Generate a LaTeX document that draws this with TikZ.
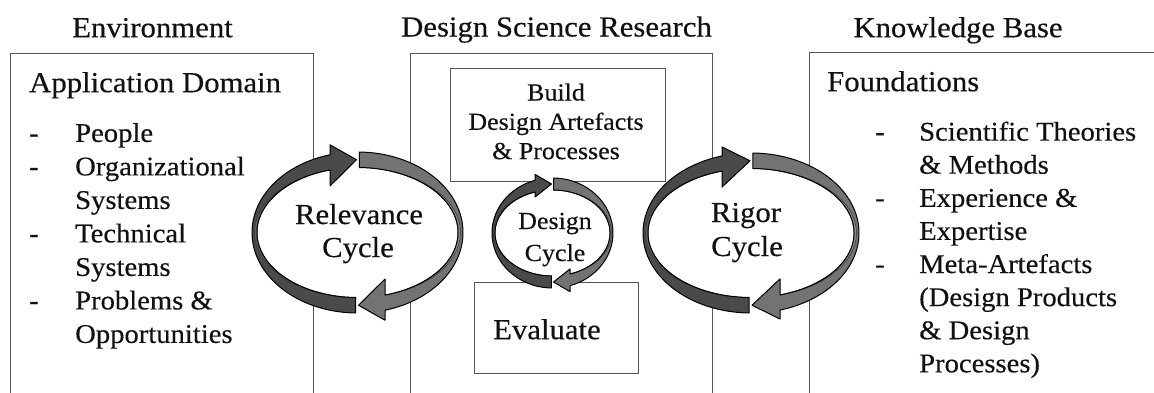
\documentclass[tikz,border=0pt]{standalone}
\usepackage{fontspec}
\setmainfont{Liberation Serif}[FakeStretch=1.06,FakeBold=0.35]
\definecolor{arrDark}{HTML}{4A4A4A}
\definecolor{arrDarkS}{HTML}{5E5E5E}
\definecolor{arrMid}{HTML}{737373}
\definecolor{arrMidS}{HTML}{888888}
\definecolor{boxgray}{HTML}{555555}
\definecolor{ink}{HTML}{111111}
\newcommand\fontHdr{\fontsize{29}{33}\selectfont}
\newcommand\fontItem{\fontsize{27}{33}\selectfont}
\newcommand\fontSmall{\fontsize{24.5}{29.3}\selectfont}
% #1 cx, #2 cy, #3 Rx, #4 Ry, #5 inner ry, #6 crescent depth, #7 head base offset, #8 wing out, #9 wing in
\newcommand{\cycdraw}[9]{%
  \pgfmathsetmacro\cyX{#1}\pgfmathsetmacro\cyY{#2}%
  \pgfmathsetmacro\cyRx{#3}\pgfmathsetmacro\cyRy{#4}\pgfmathsetmacro\cyry{#5}%
  \pgfmathsetmacro\cyrb{#3-#6/2}\pgfmathsetmacro\cyrc{#3-#6}%
  \pgfmathsetmacro\cyb{#7}\pgfmathsetmacro\cywo{#8}\pgfmathsetmacro\cywi{#9}%
  \pgfmathsetmacro\cytO{acos(\cyb/\cyRx)}%
  \pgfmathsetmacro\cytB{acos(\cyb/\cyrb)}%
  \pgfmathsetmacro\cytC{acos(\cyb/\cyrc)}%
  \fill[white] (\cyX,\cyY) ellipse[x radius=\cyRx pt, y radius=\cyRy pt];
  % left (dark) arrow
  \fill[arrDark]
    ({\cyX+\cyRx*cos(269)},{\cyY+\cyRy*sin(269)})
    arc[start angle=269, end angle={180-\cytO}, x radius=\cyRx pt, y radius=\cyRy pt]
    -- ({\cyX-\cyb},{\cyY+\cyRy*sin(\cytO)+\cywo})
    -- ({\cyX-1},{\cyY+(\cyRy+\cyry)/2})
    -- ({\cyX-\cyb},{\cyY+\cyry*sin(\cytC)-\cywi})
    -- ({\cyX-\cyb},{\cyY+\cyry*sin(\cytC)})
    arc[start angle={180-\cytC}, end angle=269, x radius=\cyrc pt, y radius=\cyry pt]
    -- cycle;
  \filldraw[fill=arrDarkS, draw=black!80, line width=0.5pt]
    ({\cyX+\cyrb*cos(269)},{\cyY+\cyry*sin(269)})
    arc[start angle=269, end angle={180-\cytB}, x radius=\cyrb pt, y radius=\cyry pt]
    -- ({\cyX-\cyb},{\cyY+\cyry*sin(\cytC)})
    arc[start angle={180-\cytC}, end angle=269, x radius=\cyrc pt, y radius=\cyry pt]
    -- cycle;
  \draw[arrowline]
    ({\cyX+\cyRx*cos(269)},{\cyY+\cyRy*sin(269)})
    arc[start angle=269, end angle={180-\cytO}, x radius=\cyRx pt, y radius=\cyRy pt]
    -- ({\cyX-\cyb},{\cyY+\cyRy*sin(\cytO)+\cywo})
    -- ({\cyX-1},{\cyY+(\cyRy+\cyry)/2})
    -- ({\cyX-\cyb},{\cyY+\cyry*sin(\cytC)-\cywi})
    -- ({\cyX-\cyb},{\cyY+\cyry*sin(\cytC)})
    arc[start angle={180-\cytC}, end angle=269, x radius=\cyrc pt, y radius=\cyry pt]
    -- cycle;
  % right (medium) arrow
  \fill[arrMid]
    ({\cyX+\cyRx*cos(89)},{\cyY+\cyRy*sin(89)})
    arc[start angle=89, end angle={-\cytO}, x radius=\cyRx pt, y radius=\cyRy pt]
    -- ({\cyX+\cyb},{\cyY-\cyRy*sin(\cytO)-\cywo})
    -- ({\cyX+1},{\cyY-(\cyRy+\cyry)/2})
    -- ({\cyX+\cyb},{\cyY-\cyry*sin(\cytC)+\cywi})
    -- ({\cyX+\cyb},{\cyY-\cyry*sin(\cytC)})
    arc[start angle={-\cytC}, end angle=89, x radius=\cyrc pt, y radius=\cyry pt]
    -- cycle;
  \filldraw[fill=arrMidS, draw=black!80, line width=0.5pt]
    ({\cyX+\cyrb*cos(89)},{\cyY+\cyry*sin(89)})
    arc[start angle=89, end angle={-\cytB}, x radius=\cyrb pt, y radius=\cyry pt]
    -- ({\cyX+\cyb},{\cyY-\cyry*sin(\cytC)})
    arc[start angle={-\cytC}, end angle=89, x radius=\cyrc pt, y radius=\cyry pt]
    -- cycle;
  \draw[arrowline]
    ({\cyX+\cyRx*cos(89)},{\cyY+\cyRy*sin(89)})
    arc[start angle=89, end angle={-\cytO}, x radius=\cyRx pt, y radius=\cyRy pt]
    -- ({\cyX+\cyb},{\cyY-\cyRy*sin(\cytO)-\cywo})
    -- ({\cyX+1},{\cyY-(\cyRy+\cyry)/2})
    -- ({\cyX+\cyb},{\cyY-\cyry*sin(\cytC)+\cywi})
    -- ({\cyX+\cyb},{\cyY-\cyry*sin(\cytC)})
    arc[start angle={-\cytC}, end angle=89, x radius=\cyrc pt, y radius=\cyry pt]
    -- cycle;
}
\begin{document}
\begin{tikzpicture}[x=1pt,y=1pt,
  txt/.style={inner sep=0pt, text=ink},
  hdr/.style={txt, font=\fontHdr, anchor=base},
  hdrw/.style={txt, font=\fontHdr, anchor=base west},
  item/.style={txt, font=\fontItem, anchor=base west},
  small/.style={txt, font=\fontSmall, anchor=base},
  boxline/.style={draw=boxgray, line width=1pt},
  arrowline/.style={draw=black, line width=1pt, line join=round}]
\useasboundingbox (0,0) rectangle (1154,392);
\fill[white] (0,0) rectangle (1154,392);
% boxes
\draw[boxline] (10,-3) -- (10,339) -- (313,339) -- (313,-3);
\draw[boxline] (410,-3) -- (410,339) -- (712,339) -- (712,-3);
\draw[boxline] (809,-3) -- (809,340) -- (1157,340);
\node[boxline, inner sep=0pt, minimum width=215pt, minimum height=113pt] (build) at (557.5,267.5) {};
\node[boxline, inner sep=0pt, minimum width=164pt, minimum height=91pt] (eval) at (556,64.5) {};
% cycles
\cycdraw{357.5}{159.5}{105.5}{80.5}{65}{5}{27.5}{10}{16}
\cycdraw{751}{159}{108}{80}{64.5}{5}{29}{9}{16}
\cycdraw{552.5}{159}{60.5}{55}{43}{3}{17.5}{6}{5}
% headers
\node[hdr] (env) at (152.5,354.8) {Environment};
\node[hdr] (dsr) at (556.5,355.5) {Design Science Research};
\node[hdr] (kb) at (958,354.8) {Knowledge Base};
\node[hdrw] (appdom) at (29,299.8) {Application Domain};
\node[hdrw] (found) at (827,300.8) {Foundations};
% left list
\node[item] (l1d) at (29,250.1) {-};
\node[item] (l1) at (75,250.1) {People};
\node[item] (l2d) at (29,216.6) {-};
\node[item] (l2) at (75,216.6) {Organizational};
\node[item] (l3) at (75,183.1) {Systems};
\node[item] (l4d) at (29,149.6) {-};
\node[item] (l4) at (75,149.6) {Technical};
\node[item] (l5) at (75,116.1) {Systems};
\node[item] (l6d) at (29,82.6) {-};
\node[item] (l6) at (75,82.6) {Problems \&};
\node[item] (l7) at (75,49.1) {Opportunities};
% right list
\node[item] (r1d) at (875,251.4) {-};
\node[item] (r1) at (919,251.4) {Scientific Theories};
\node[item] (r2) at (919,218.3) {\& Methods};
\node[item] (r3d) at (875,185.2) {-};
\node[item] (r3) at (919,185.2) {Experience \&};
\node[item] (r4) at (919,152.1) {Expertise};
\node[item] (r5d) at (875,119.0) {-};
\node[item] (r5) at (919,119.0) {Meta-Artefacts};
\node[item] (r6) at (919,85.9) {(Design Products};
\node[item] (r7) at (919,52.8) {\& Design};
\node[item] (r8) at (919,19.7) {Processes)};
% build box text
\node[small] (b1) at (556,291.5) {Build};
\node[small] (b2) at (556,262.2) {Design Artefacts};
\node[small] (b3) at (556,232.9) {\& Processes};
% evaluate
\node[hdrw] (evt) at (493,52.8) {Evaluate};
% cycle labels
\node[hdr] (rel1) at (359,168) {Relevance};
\node[hdr] (rel2) at (358,135) {Cycle};
\node[hdr] (rig1) at (746,170) {Rigor};
\node[hdr] (rig2) at (747,136) {Cycle};
\node[small] (dc1) at (555,163) {Design};
\node[small] (dc2) at (555,131) {Cycle};
\end{tikzpicture}
\end{document}
